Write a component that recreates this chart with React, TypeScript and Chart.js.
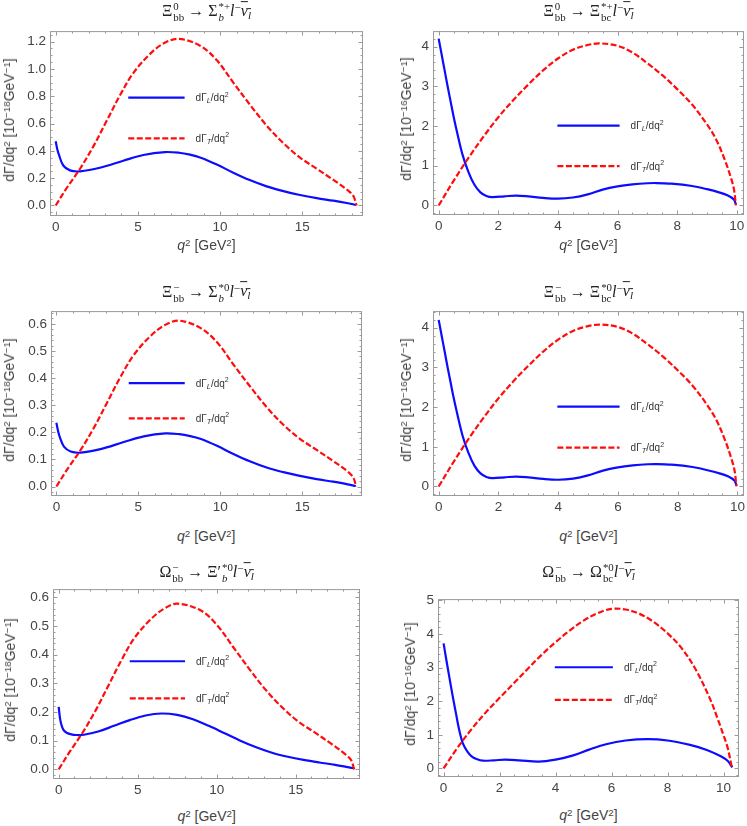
import { useEffect, useRef, type ReactNode } from 'react';
import { Chart, registerables } from 'chart.js';

Chart.register(...registerables);

// Ξbb0 → Σb*+ and Ξbb- → Σb*0 (same q² grid)
const sigL_q2 = [0, 0.1, 0.22, 0.46, 0.87, 1.48, 2.69, 4.11, 5.33, 6.65, 7.5, 8.17, 8.78, 9.8, 10.8, 11.8, 12.83, 13.85, 14.86, 15.88, 16.89, 17.7, 18.27];
const sigT_q2 = [0, 0.67, 1.48, 2.29, 3.1, 3.91, 4.72, 5.74, 6.55, 7.46, 8.78, 9.79, 10.8, 11.82, 12.83, 13.85, 14.86, 15.88, 16.89, 17.7, 18.1, 18.27, 18.3];
const sigPlusL = [0.47, 0.41, 0.363, 0.293, 0.257, 0.25, 0.276, 0.328, 0.37, 0.391, 0.386, 0.372, 0.352, 0.3, 0.24, 0.186, 0.14, 0.105, 0.077, 0.054, 0.035, 0.018, 0.004];
const sigPlusT = [0, 0.128, 0.269, 0.433, 0.62, 0.807, 0.97, 1.11, 1.186, 1.22, 1.17, 1.065, 0.9, 0.737, 0.585, 0.456, 0.351, 0.269, 0.187, 0.117, 0.07, 0.012, 0];
const sigZeroL = [0.235, 0.205, 0.18, 0.147, 0.129, 0.125, 0.138, 0.164, 0.185, 0.196, 0.193, 0.186, 0.176, 0.15, 0.12, 0.093, 0.07, 0.053, 0.039, 0.027, 0.018, 0.009, 0.002];
const sigZeroT = [0, 0.064, 0.135, 0.217, 0.31, 0.404, 0.485, 0.555, 0.593, 0.612, 0.585, 0.533, 0.45, 0.369, 0.293, 0.228, 0.176, 0.135, 0.094, 0.059, 0.035, 0.006, 0];

// Ξbb → Ξbc* (both charges look the same)
const xiBcL_q2 = [0, 0.1, 0.2, 0.3, 0.4, 0.5, 0.6, 0.8, 1.0, 1.2, 1.4, 1.6, 1.8, 2.2, 2.6, 3.0, 3.5, 4.0, 4.5, 5.0, 5.5, 6.0, 6.5, 7.0, 7.3, 7.8, 8.5, 9.0, 9.4, 9.7, 9.9, 9.97];
const xiBcL = [4.2, 3.8, 3.4, 3.0, 2.62, 2.24, 1.9, 1.28, 0.84, 0.52, 0.33, 0.24, 0.21, 0.23, 0.25, 0.23, 0.19, 0.17, 0.2, 0.28, 0.4, 0.48, 0.53, 0.56, 0.565, 0.55, 0.49, 0.41, 0.33, 0.25, 0.15, 0.02];
const xiBcT_q2 = [0, 0.5, 1, 1.5, 2, 2.5, 3, 3.5, 4, 4.5, 5, 5.4, 6, 6.5, 7, 7.5, 8, 8.5, 9, 9.3, 9.6, 9.8, 9.9, 9.97];
const xiBcT = [0, 0.62, 1.2, 1.73, 2.22, 2.65, 3.04, 3.4, 3.7, 3.92, 4.04, 4.08, 4.02, 3.85, 3.58, 3.28, 2.93, 2.54, 2.04, 1.67, 1.14, 0.7, 0.42, 0];

// Ωbb- → Ξ'b*0
const xiPrL_q2 = [0, 0.08, 0.17, 0.3, 0.5, 0.8, 1.1, 1.6, 2.5, 3.5, 4.5, 5.5, 6.5, 7.5, 8.5, 9.5, 10.5, 11.5, 12.5, 13.5, 14.5, 15.5, 16.5, 17.5, 18.7];
const xiPrL = [0.218, 0.18, 0.156, 0.138, 0.128, 0.122, 0.12, 0.121, 0.132, 0.152, 0.172, 0.188, 0.195, 0.19, 0.175, 0.152, 0.126, 0.1, 0.077, 0.058, 0.044, 0.033, 0.024, 0.016, 0.004];
const xiPrT_q2 = [0, 0.68, 1.5, 2.33, 3.15, 3.98, 4.8, 5.85, 6.68, 7.5, 8.97, 10.0, 11.04, 12.08, 13.11, 14.15, 15.19, 16.23, 17.26, 18.09, 18.5, 18.67, 18.7];
const xiPrT = [0, 0.06, 0.127, 0.205, 0.293, 0.382, 0.459, 0.525, 0.561, 0.578, 0.555, 0.505, 0.427, 0.349, 0.277, 0.216, 0.166, 0.128, 0.089, 0.055, 0.033, 0.006, 0];

// Ωbb- → Ωbc*0
const omL_q2 = [0, 0.1, 0.2, 0.33, 0.45, 0.57, 0.7, 0.85, 1.0, 1.2, 1.4, 1.8, 2.2, 2.7, 3.4, 4.0, 4.6, 5.2, 5.8, 6.5, 7.3, 8.0, 8.8, 9.4, 9.9, 10.15, 10.31];
const omL = [3.72, 3.22, 2.74, 2.13, 1.6, 1.1, 0.72, 0.5, 0.36, 0.27, 0.23, 0.24, 0.26, 0.24, 0.2, 0.26, 0.38, 0.56, 0.72, 0.83, 0.87, 0.83, 0.7, 0.55, 0.36, 0.22, 0.03];
const omT_q2 = [0, 0.5, 1, 1.5, 2, 2.5, 3, 3.5, 4, 4.5, 5, 5.5, 6, 6.5, 7, 7.5, 8, 8.5, 9, 9.5, 9.8, 10, 10.15, 10.3];
const omT = [0, 0.62, 1.17, 1.66, 2.1, 2.53, 2.96, 3.38, 3.76, 4.1, 4.4, 4.62, 4.75, 4.73, 4.6, 4.36, 4.02, 3.58, 2.95, 2.1, 1.45, 0.98, 0.6, 0];

const q2TicksWide = [0, 5, 10, 15];
const q2TicksShort = [0, 2, 4, 6, 8, 10];
const rateTicks12 = [0, 0.2, 0.4, 0.6, 0.8, 1.0, 1.2];
const rateTicks06 = [0, 0.1, 0.2, 0.3, 0.4, 0.5, 0.6];
const rateTicks4 = [0, 1, 2, 3, 4];
const rateTicks5 = [0, 1, 2, 3, 4, 5];

const YW = 50;
const PT = 4;
const PR = 4;
const XH = 22;
const SANS = '"Liberation Sans", Arial, sans-serif';
const SERIF = '"Liberation Serif", "Times New Roman", serif';
const BLUE = '#0c0cff';
const RED = '#ff0c0c';

const pts = (xs: number[], ys: number[]) => xs.map((x, i) => ({ x, y: ys[i] }));

const framePlugin = {
  id: 'frame',
  afterDatasetsDraw(chart: any, _args: any, opts: any) {
    const { ctx, chartArea: a, scales } = chart;
    const sx = scales.x;
    const sy = scales.y;
    ctx.save();
    ctx.strokeStyle = '#9a9a9a';
    ctx.lineWidth = 1;
    ctx.strokeRect(a.left + 0.5, a.top + 0.5, a.right - a.left - 1, a.bottom - a.top - 1);
    const xLine = (v: number, len: number) => {
      const px = Math.round(sx.getPixelForValue(v)) + 0.5;
      ctx.beginPath();
      ctx.moveTo(px, a.bottom);
      ctx.lineTo(px, a.bottom - len);
      ctx.moveTo(px, a.top);
      ctx.lineTo(px, a.top + len);
      ctx.stroke();
    };
    const yLine = (v: number, len: number) => {
      const py = Math.round(sy.getPixelForValue(v)) + 0.5;
      ctx.beginPath();
      ctx.moveTo(a.left, py);
      ctx.lineTo(a.left + len, py);
      ctx.moveTo(a.right, py);
      ctx.lineTo(a.right - len, py);
      ctx.stroke();
    };
    const minorRun = (min: number, max: number, step: number, fn: (v: number) => void) => {
      const start = Math.ceil(min / step - 1e-9);
      for (let i = start; i * step <= max + 1e-9; i++) fn(i * step);
    };
    minorRun(sx.min, sx.max, opts.xMinor, (v) => xLine(v, 2.5));
    minorRun(sy.min, sy.max, opts.yMinor, (v) => yLine(v, 2.5));
    sx.ticks.forEach((t: any) => xLine(t.value, 4.5));
    sy.ticks.forEach((t: any) => yLine(t.value, 4.5));
    ctx.restore();
  },
};

const keyPlugin = {
  id: 'key',
  afterDatasetsDraw(chart: any, _args: any, opts: any) {
    const { ctx, chartArea: a } = chart;
    const w = a.right - a.left;
    const h = a.bottom - a.top;
    const x0 = a.left + opts.x0 * w;
    const x1 = a.left + opts.x1 * w;
    const tx = x1 + 11;
    const rows = [
      { y: a.top + opts.y1 * h, color: BLUE, dash: [] as number[], sub: 'L' },
      { y: a.top + opts.y2 * h, color: RED, dash: [6, 2.5], sub: 'T' },
    ];
    ctx.save();
    rows.forEach((r) => {
      ctx.strokeStyle = r.color;
      ctx.lineWidth = 2.2;
      ctx.setLineDash(r.dash);
      ctx.beginPath();
      ctx.moveTo(x0, r.y);
      ctx.lineTo(x1, r.y);
      ctx.stroke();
      ctx.setLineDash([]);
      ctx.fillStyle = '#333';
      ctx.textBaseline = 'alphabetic';
      let cx = tx;
      const base = r.y + 3.5;
      const put = (s: string, font: string, dy: number) => {
        ctx.font = font;
        ctx.fillText(s, cx, base + dy);
        cx += ctx.measureText(s).width;
      };
      put('dΓ', `10px ${SANS}`, 0);
      put(r.sub, `italic 7.5px ${SANS}`, 2);
      put('/dq', `10px ${SANS}`, 0);
      put('2', `7px ${SANS}`, -4.5);
    });
    ctx.restore();
  },
};

const Stack = ({ sup, sub }: { sup: ReactNode; sub: ReactNode }) => (
  <span style={{ display: 'inline-block', verticalAlign: 'middle', fontSize: '0.68em', lineHeight: 1, textAlign: 'left', marginLeft: 1 }}>
    <span style={{ display: 'block' }}>{sup}</span>
    <span style={{ display: 'block' }}>{sub}</span>
  </span>
);

const Sup = ({ children }: { children: ReactNode }) => (
  <span style={{ fontSize: '0.7em', verticalAlign: '0.45em', lineHeight: 0 }}>{children}</span>
);

const Lepton = () => (
  <>
    <i>l</i>
    <Sup>−</Sup>
    <span style={{ textDecoration: 'overline' }}>
      <i>ν</i>
      <span style={{ fontSize: '0.7em', verticalAlign: '-0.25em', lineHeight: 0 }}>
        <i>l</i>
      </span>
    </span>
  </>
);

interface PanelDef {
  l: number;
  t: number;
  r: number;
  b: number;
  xMin: number;
  xMax: number;
  yMin: number;
  yMax: number;
  xTicks: number[];
  yTicks: number[];
  xMinor: number;
  yMinor: number;
  yDigits: number;
  key: { x0: number; x1: number; y1: number; y2: number };
  L: { x: number; y: number }[];
  T: { x: number; y: number }[];
  title: ReactNode;
  exp: string;
  titleY: number;
  xLabelY: number;
  yLabelX: number;
}

const panels: PanelDef[] = [
  {
    l: 50, t: 23, r: 363, b: 216,
    xMin: -0.347, xMax: 18.69, yMin: -0.077, yMax: 1.277,
    xTicks: q2TicksWide, yTicks: rateTicks12, xMinor: 1, yMinor: 0.05, yDigits: 1,
    key: { x0: 0.25, x1: 0.43, y1: 0.36, y2: 0.58 },
    L: pts(sigL_q2, sigPlusL), T: pts(sigT_q2, sigPlusT),
    title: (<>Ξ<Stack sup="0" sub="bb" /> → Σ<Stack sup="*+" sub={<i>b</i>} /><Lepton /></>),
    exp: '−18', titleY: 12, xLabelY: 245, yLabelX: 9,
  },
  {
    l: 433, t: 23, r: 744, b: 215,
    xMin: -0.19, xMax: 10.24, yMin: -0.24, yMax: 4.39,
    xTicks: q2TicksShort, yTicks: rateTicks4, xMinor: 0.5, yMinor: 0.2, yDigits: 0,
    key: { x0: 0.4, x1: 0.6, y1: 0.514, y2: 0.734 },
    L: pts(xiBcL_q2, xiBcL), T: pts(xiBcT_q2, xiBcT),
    title: (<>Ξ<Stack sup="0" sub="bb" /> → Ξ<Stack sup="*+" sub="bc" /><Lepton /></>),
    exp: '−16', titleY: 12, xLabelY: 245, yLabelX: 406,
  },
  {
    l: 50.7, t: 303.3, r: 361.7, b: 496.7,
    xMin: -0.33, xMax: 18.65, yMin: -0.035, yMax: 0.647,
    xTicks: q2TicksWide, yTicks: rateTicks06, xMinor: 1, yMinor: 0.02, yDigits: 1,
    key: { x0: 0.25, x1: 0.43, y1: 0.39, y2: 0.58 },
    L: pts(sigL_q2, sigZeroL), T: pts(sigT_q2, sigZeroT),
    title: (<>Ξ<Stack sup="−" sub="bb" /> → Σ<Stack sup="*0" sub={<i>b</i>} /><Lepton /></>),
    exp: '−18', titleY: 292.7, xLabelY: 536, yLabelX: 9,
  },
  {
    l: 433, t: 303.3, r: 743.7, b: 496.7,
    xMin: -0.19, xMax: 10.22, yMin: -0.24, yMax: 4.42,
    xTicks: q2TicksShort, yTicks: rateTicks4, xMinor: 0.5, yMinor: 0.2, yDigits: 0,
    key: { x0: 0.4, x1: 0.6, y1: 0.517, y2: 0.738 },
    L: pts(xiBcL_q2, xiBcL), T: pts(xiBcT_q2, xiBcT),
    title: (<>Ξ<Stack sup="−" sub="bb" /> → Ξ<Stack sup="*0" sub="bc" /><Lepton /></>),
    exp: '−16', titleY: 292.7, xLabelY: 536, yLabelX: 406,
  },
  {
    l: 53.3, t: 580.7, r: 360, b: 778.3,
    xMin: -0.36, xMax: 19.07, yMin: -0.0335, yMax: 0.629,
    xTicks: q2TicksWide, yTicks: rateTicks06, xMinor: 1, yMinor: 0.02, yDigits: 1,
    key: { x0: 0.25, x1: 0.43, y1: 0.38, y2: 0.575 },
    L: pts(xiPrL_q2, xiPrL), T: pts(xiPrT_q2, xiPrT),
    title: (<>Ω<Stack sup="−" sub="bb" /> → Ξ′<Stack sup="*0" sub={<i>b</i>} /><Lepton /></>),
    exp: '−18', titleY: 573.3, xLabelY: 816, yLabelX: 10,
  },
  {
    l: 438, t: 591, r: 739, b: 777.3,
    xMin: -0.2, xMax: 10.55, yMin: -0.256, yMax: 5.04,
    xTicks: q2TicksShort, yTicks: rateTicks5, xMinor: 0.5, yMinor: 0.2, yDigits: 0,
    key: { x0: 0.388, x1: 0.581, y1: 0.383, y2: 0.567 },
    L: pts(omL_q2, omL), T: pts(omT_q2, omT),
    title: (<>Ω<Stack sup="−" sub="bb" /> → Ω<Stack sup="*0" sub="bc" /><Lepton /></>),
    exp: '−16', titleY: 573.3, xLabelY: 815, yLabelX: 410,
  },
];

function PanelView({ p }: { p: PanelDef }) {
  const canvas = useRef<HTMLCanvasElement | null>(null);
  const w = Math.round(p.r - p.l + YW + PR);
  const h = Math.round(p.b - p.t + PT + XH);

  useEffect(() => {
    const node = canvas.current;
    if (!node) {
      return;
    }
    const tickFont = { family: SANS, size: 13.5 };
    const chart = new Chart(node, {
      type: 'line',
      data: {
        datasets: [
          {
            label: 'T',
            data: p.T,
            borderColor: RED,
            borderWidth: 2.2,
            borderDash: [6, 2.5],
            pointRadius: 0,
            tension: 0.35,
            fill: false,
          },
          {
            label: 'L',
            data: p.L,
            borderColor: BLUE,
            borderWidth: 2.2,
            pointRadius: 0,
            tension: 0.35,
            fill: false,
          },
        ],
      },
      options: {
        animation: false,
        responsive: false,
        maintainAspectRatio: false,
        events: [],
        layout: { padding: { top: PT, right: PR, left: 0, bottom: 0 }, autoPadding: false },
        scales: {
          x: {
            type: 'linear',
            min: p.xMin,
            max: p.xMax,
            afterBuildTicks: (s: any) => {
              s.ticks = p.xTicks.map((value) => ({ value }));
            },
            afterFit: (s: any) => {
              s.height = XH;
            },
            grid: { display: false, drawTicks: false },
            border: { display: false },
            ticks: {
              color: '#444',
              font: tickFont,
              padding: 3,
              maxRotation: 0,
              autoSkip: false,
              callback: (v: any) => String(v),
            },
          },
          y: {
            type: 'linear',
            min: p.yMin,
            max: p.yMax,
            afterBuildTicks: (s: any) => {
              s.ticks = p.yTicks.map((value) => ({ value }));
            },
            afterFit: (s: any) => {
              s.width = YW;
            },
            grid: { display: false, drawTicks: false },
            border: { display: false },
            ticks: {
              color: '#444',
              font: tickFont,
              padding: 4,
              autoSkip: false,
              callback: (v: any) => Number(v).toFixed(p.yDigits),
            },
          },
        },
        plugins: {
          legend: { display: false },
          tooltip: { enabled: false },
          frame: { xMinor: p.xMinor, yMinor: p.yMinor },
          key: p.key,
        } as any,
      },
      plugins: [framePlugin, keyPlugin],
    } as any);

    return () => {
      chart.destroy();
    };
  }, [p]);

  const cx = (p.l + p.r) / 2;
  const cy = (p.t + p.b) / 2;

  return (
    <>
      <canvas
        ref={canvas}
        width={w}
        height={h}
        style={{ position: 'absolute', left: p.l - YW, top: p.t - PT, width: w, height: h }}
      />
      <div
        style={{
          position: 'absolute',
          left: cx,
          top: p.titleY,
          transform: 'translate(-50%, -50%)',
          whiteSpace: 'nowrap',
          font: `16px ${SERIF}`,
          color: '#222',
          lineHeight: 1,
        }}
      >
        {p.title}
      </div>
      <div
        style={{
          position: 'absolute',
          left: cx,
          top: p.xLabelY,
          transform: 'translate(-50%, -50%)',
          whiteSpace: 'nowrap',
          font: `14px ${SANS}`,
          color: '#444',
          lineHeight: 1,
        }}
      >
        <i>q</i>
        <Sup>2</Sup> [GeV<Sup>2</Sup>]
      </div>
      <div
        style={{
          position: 'absolute',
          left: p.yLabelX,
          top: cy,
          transform: 'translate(-50%, -50%) rotate(-90deg)',
          whiteSpace: 'nowrap',
          font: `14px ${SANS}`,
          color: '#444',
          lineHeight: 1,
        }}
      >
        dΓ/dq<Sup>2</Sup> [10<Sup>{p.exp}</Sup>GeV<Sup>−1</Sup>]
      </div>
    </>
  );
}

export default function App() {
  return (
    <div
      style={{
        position: 'absolute',
        left: 0,
        top: 0,
        width: 747,
        height: 826,
        background: '#fff',
        overflow: 'hidden',
      }}
    >
      {panels.map((p, i) => (
        <PanelView key={i} p={p} />
      ))}
    </div>
  );
}
